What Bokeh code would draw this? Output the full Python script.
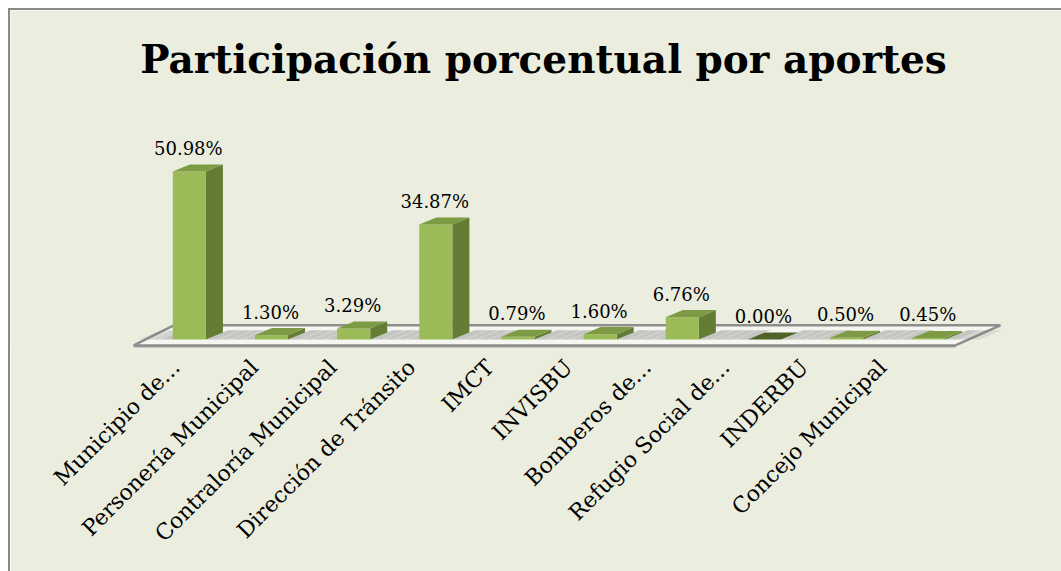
import math
from bokeh.plotting import figure
from bokeh.models import FixedTicker, Label, LinearAxis, Range1d
from bokeh.core.properties import value
from bokeh.embed import file_html
from bokeh.resources import INLINE

# ---- data ----
categories = ["Municipio de...", "Personería Municipal", "Contraloría Municipal",
              "Dirección de Tránsito", "IMCT", "INVISBU", "Bomberos de...",
              "Refugio Social de...", "INDERBU", "Concejo Municipal"]
values = [50.98, 1.30, 3.29, 34.87, 0.79, 1.60, 6.76, 0.00, 0.50, 0.45]
value_labels = ["50.98%", "1.30%", "3.29%", "34.87%", "0.79%", "1.60%",
                "6.76%", "0.00%", "0.50%", "0.45%"]
title_text = "Participación porcentual por aportes"

# ---- styling / geometry ----
BG = "#EBEEDE"
FRONT = "#9BBB59"
SIDE = "#647D35"
TOP = "#7D9A45"
TOP_ZERO = "#4F6228"
FLOOR_FILL = "#F6F6F1"
FLOOR_LINE = "#8E8E8E"

W, H = 1053, 563             # outer size (border included)
CW, CH = W - 2, H - 2        # drawing canvas inside the 2px border
FRAME_BOTTOM = 338          # canvas px where frame ends (axis starts)
PX_PER_UNIT_Y = 167 / 50.98  # pixels per percent
PX_PER_CAT = 82.0
ZERO_PX = 327               # canvas y of value 0
BAR0_PX = 178.5             # canvas x of first bar front centre
LAB_PX = 78.4               # label spacing along the axis
LAB0_PX = 165.0             # canvas x of first label tick

y_start = -(FRAME_BOTTOM - ZERO_PX) / PX_PER_UNIT_Y
y_end = y_start + FRAME_BOTTOM / PX_PER_UNIT_Y
x_start = -BAR0_PX / PX_PER_CAT
x_end = x_start + CW / PX_PER_CAT

def px_x(px):
    return px / PX_PER_CAT

def px_y(px):
    return px / PX_PER_UNIT_Y

bar_half = px_x(16.5)
ddx = px_x(17)
ddy = px_y(7)

p = figure(width=W, height=H, x_range=(x_start, x_end), y_range=(y_start, y_end),
           output_backend="svg", toolbar_location=None, y_axis_location=None,
           x_axis_location=None,
           min_border_left=0, min_border_right=0, min_border_top=0,
           min_border_bottom=CH - FRAME_BOTTOM,
           background_fill_color=BG, border_fill_color=BG,
           outline_line_color=None,
           styles={"margin-left": "8px", "margin-top": "8px",
                   "border-left": "2px solid #888888", "border-top": "2px solid #888888"})
p.xgrid.visible = False
p.ygrid.visible = False

# ---- floor ----
fl_front_y = -px_y(6)
fl_back_y = px_y(14)
fl_front_left = x_start + px_x(123)
fl_front_right = x_start + px_x(943)
fl_back_left = x_start + px_x(163)
fl_back_right = x_start + px_x(988)
p.patch([fl_front_left, fl_front_right, fl_front_right, fl_front_left],
        [fl_front_y, fl_front_y, fl_front_y - px_y(2), fl_front_y - px_y(2)],
        fill_color="#A8A8A8", line_color=None)
p.patch([fl_front_left, fl_front_right, fl_back_right, fl_back_left],
        [fl_front_y, fl_front_y, fl_back_y, fl_back_y],
        fill_color=FLOOR_FILL, line_color=FLOOR_LINE, line_width=2.5)

# ---- soft shadows on the floor around bars ----
sx, sy = [], []
for i, v in enumerate(values):
    c = i
    for w in (0.42, 0.28, 0.14):
        for side in (-1, 1):
            x0 = c + side * bar_half
            x1 = c + side * (bar_half + w)
            sx.append([x0, x1, x1 + ddx * 1.3, x0 + ddx * 1.3])
            sy.append([0, 0, ddy * 1.3, ddy * 1.3])
p.patches(sx, sy, fill_color="#6E6E6E", fill_alpha=0.14, line_color=None)

# ---- 3D bars ----
fx, fy, six, siy, tx, ty, tcol = [], [], [], [], [], [], []
for i, v in enumerate(values):
    c = i
    l, r = c - bar_half, c + bar_half
    fx.append([l, r, r, l]); fy.append([0, 0, v, v])
    six.append([r, r + ddx, r + ddx, r]); siy.append([0, ddy, v + ddy, v])
    tx.append([l, r, r + ddx, l + ddx]); ty.append([v, v, v + ddy, v + ddy])
    tcol.append(TOP_ZERO if v == 0 else TOP)
p.patches(six, siy, fill_color=SIDE, line_color=None)
p.patches(fx, fy, fill_color=FRONT, line_color=None)
p.patches(tx, ty, fill_color=tcol, line_color=None)

# ---- value labels ----
lx = [i - px_x(1) for i in range(len(values))]
ly = [v + ddy + px_y(16) for v in values]
p.text(lx, ly, text=value_labels, text_font=value("DejaVu Serif"),
       text_font_size="18px", text_align="center", text_baseline="middle",
       text_color="#000000")

# ---- title ----
p.add_layout(Label(x=x_start + px_x(532), y=y_end - px_y(48), text=title_text,
                   text_font="DejaVu Serif", text_font_style="bold",
                   text_font_size="39px", text_align="center",
                   text_baseline="middle", text_color="#000000"))

# ---- category axis (own range so the labels follow the floor's front edge) ----
lab_start = -LAB0_PX / LAB_PX
p.extra_x_ranges = {"lab": Range1d(lab_start, lab_start + CW / LAB_PX)}
ax = LinearAxis(x_range_name="lab")
ax.ticker = FixedTicker(ticks=list(range(len(categories))))
ax.major_label_overrides = {i: name for i, name in enumerate(categories)}
ax.major_label_orientation = math.pi / 4
ax.major_label_text_font = "DejaVu Serif"
ax.major_label_text_font_size = "22px"
ax.major_label_text_color = "#000000"
ax.major_label_standoff = 13
ax.axis_line_color = None
ax.major_tick_line_color = None
ax.minor_tick_line_color = None
ax.major_tick_out = 0
ax.major_tick_in = 0
p.add_layout(ax, "below")

open("out.html", "w").write(file_html(p, INLINE))
